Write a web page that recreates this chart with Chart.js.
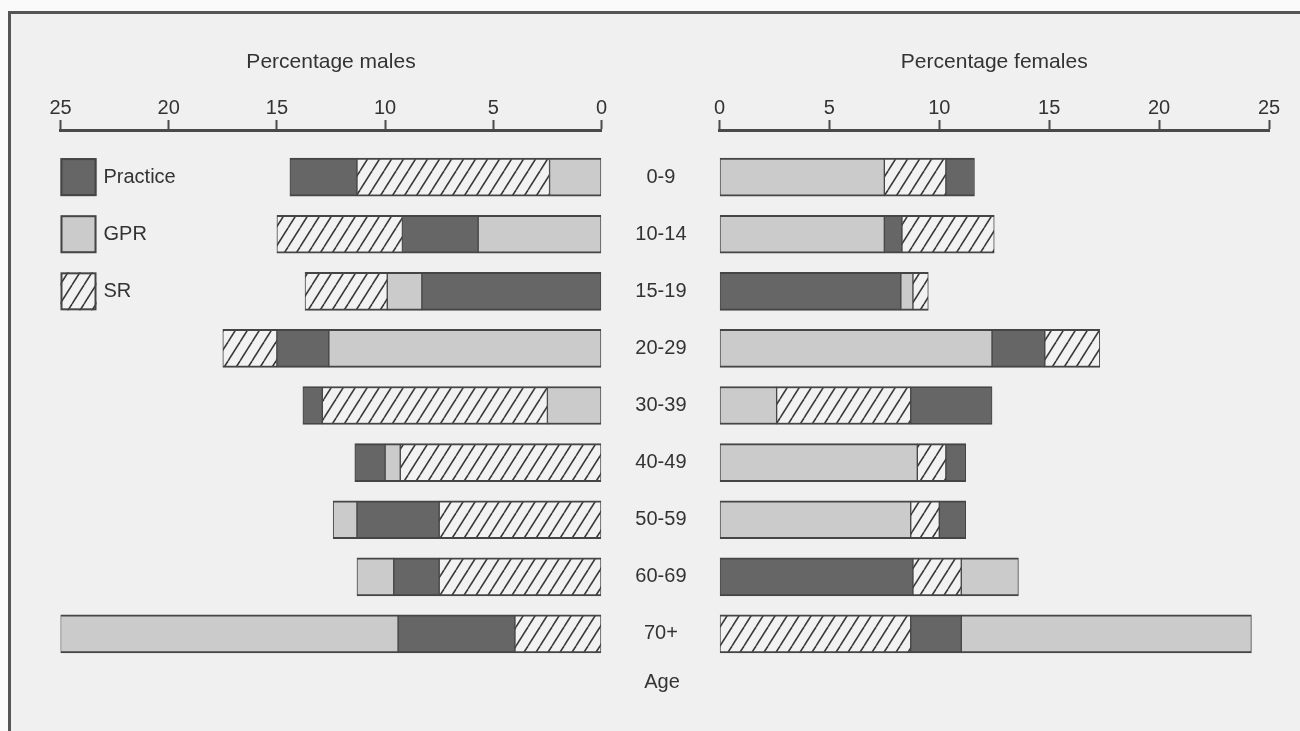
<!DOCTYPE html>
<html>
<head>
<meta charset="utf-8">
<title>Percentage males / females by age</title>
<script src="https://cdn.jsdelivr.net/npm/chart.js@4"></script>
<style>
  body { margin: 0; width: 1300px; height: 731px; overflow: hidden; background: #fafafa; position: relative; }
  #frame { position: absolute; left: 8px; top: 11px; right: -10px; bottom: -10px;
           border-left: 3px solid #555; border-top: 3px solid #555; background: #f0f0f0; }
  #males { position: absolute; left: 0; top: 0; }
  #females { position: absolute; left: 600px; top: 0; }
  #age { position: absolute; left: 612px; top: 669px; width: 100px; text-align: center;
         font: 20px "Liberation Sans", Arial, sans-serif; line-height: 24px; color: #333; }
</style>
</head>
<body>
<div id="frame"></div>
<canvas id="males" width="650" height="731"></canvas>
<canvas id="females" width="700" height="731"></canvas>
<div id="age">Age</div>
<script>
// age groups, top to bottom
var ageGroups = ['0-9', '10-14', '15-19', '20-29', '30-39', '40-49', '50-59', '60-69', '70+'];

// each bar segment is [start, end] in percent
var malePractice = [[11.3, 14.4], [5.7, 9.2], [0, 8.3], [12.6, 15.0], [12.9, 13.8], [10.0, 11.4], [7.5, 11.3], [7.5, 9.6], [4.0, 9.4]];
var maleGPR      = [[0, 2.4], [0, 5.7], [8.3, 9.9], [0, 12.6], [0, 2.5], [9.3, 10.0], [11.3, 12.4], [9.6, 11.3], [9.4, 25.0]];
var maleSR       = [[2.4, 11.3], [9.2, 15.0], [9.9, 13.7], [15.0, 17.5], [2.5, 12.9], [0, 9.3], [0, 7.5], [0, 7.5], [0, 4.0]];

var femalePractice = [[10.3, 11.6], [7.5, 8.3], [0, 8.25], [12.4, 14.8], [8.7, 12.4], [10.3, 11.2], [10.0, 11.2], [0, 8.8], [8.7, 11.0]];
var femaleGPR      = [[0, 7.5], [0, 7.5], [8.25, 8.8], [0, 12.4], [0, 2.6], [0, 9.0], [0, 8.7], [11.0, 13.6], [11.0, 24.2]];
var femaleSR       = [[7.5, 10.3], [8.3, 12.5], [8.8, 9.5], [14.8, 17.3], [2.6, 8.7], [9.0, 10.3], [8.7, 10.0], [8.8, 11.0], [0, 8.7]];

var xMax = 25;
var xStep = 5;

Chart.defaults.font.family = '"Liberation Sans", Arial, sans-serif';
Chart.defaults.color = '#333';

function hatchPattern(ctx) {
    var c = document.createElement('canvas');
    c.width = 12; c.height = 19;
    var g = c.getContext('2d');
    g.fillStyle = '#f2f2f2';
    g.fillRect(0, 0, 12, 19);
    g.strokeStyle = '#383838';
    g.lineWidth = 1.6;
    [-12, 0, 12].forEach(function(o) {
        g.beginPath();
        g.moveTo(o, 19);
        g.lineTo(o + 12, 0);
        g.stroke();
    });
    return ctx.createPattern(c, 'repeat');
}

function toPoints(segs) {
    return segs.map(function(s, i) { return { x: s, y: i }; });
}

function makeDatasets(practice, gpr, sr, hatch) {
    var common = {
        borderColor: '#454545',
        borderWidth: { top: 2, bottom: 2, left: 1, right: 1 },
        borderSkipped: false,
        barThickness: 38,
        grouped: false
    };
    return [
        Object.assign({ label: 'Practice', data: toPoints(practice), backgroundColor: '#666666' }, common),
        Object.assign({ label: 'GPR', data: toPoints(gpr), backgroundColor: '#cbcbcb' }, common),
        Object.assign({ label: 'SR', data: toPoints(sr), backgroundColor: hatch }, common)
    ];
}

function xAxis(title, reverse) {
    return {
        type: 'linear',
        position: 'top',
        min: 0,
        max: xMax,
        reverse: reverse,
        ticks: { stepSize: xStep, padding: 0, font: { size: 20 } },
        grid: { drawOnChartArea: false, drawTicks: true, tickLength: 10, tickWidth: 2, tickColor: '#4a4a4a' },
        border: { display: true, color: '#4a4a4a', width: 3 },
        title: { display: true, text: title, font: { size: 21 }, padding: { top: 0, bottom: 20.9 } }
    };
}

function yAxis(show) {
    return {
        type: 'linear',
        min: -0.825,
        max: 8.6,
        reverse: true,
        offset: false,
        display: show,
        afterBuildTicks: function(s) {
            s.ticks = ageGroups.map(function(a, i) { return { value: i }; });
        },
        afterFit: function(s) { if (show) s.width = 100; },
        ticks: {
            crossAlign: 'center',
            padding: 33,
            font: { size: 20 },
            callback: function(v) { return ageGroups[v]; }
        },
        grid: { display: false, drawTicks: false },
        border: { display: false }
    };
}

// legend boxes drawn in the first three rows of the male panel
var sideLegend = {
    id: 'sideLegend',
    afterDatasetsDraw: function(chart) {
        var ctx = chart.ctx;
        var x = chart.scales.x.getPixelForValue(xMax);
        var ys = chart.scales.y;
        ctx.save();
        chart.data.datasets.forEach(function(ds, i) {
            var yc = ys.getPixelForValue(i);
            ctx.fillStyle = ds.backgroundColor;
            ctx.fillRect(x, yc - 19, 36, 38);
            ctx.strokeStyle = '#454545';
            ctx.lineWidth = 2;
            ctx.strokeRect(x + 1, yc - 18, 34, 36);
            ctx.fillStyle = '#333';
            ctx.font = '20px "Liberation Sans", Arial, sans-serif';
            ctx.textBaseline = 'middle';
            ctx.fillText(ds.label, x + 43, yc);
        });
        ctx.restore();
    }
};

document.addEventListener("DOMContentLoaded", function() {
    var mctx = document.getElementById('males').getContext('2d');
    var fctx = document.getElementById('females').getContext('2d');

    new Chart(mctx, {
        type: 'bar',
        data: { datasets: makeDatasets(malePractice, maleGPR, maleSR, hatchPattern(mctx)) },
        options: {
            indexAxis: 'y',
            responsive: false,
            animation: false,
            events: [],
            layout: { padding: { left: 60.5, right: 48.5, top: 49.9, bottom: 62.8 } },
            scales: { x: xAxis('Percentage males', true), y: yAxis(false) },
            plugins: { legend: { display: false }, tooltip: { enabled: false } }
        },
        plugins: [sideLegend]
    });

    new Chart(fctx, {
        type: 'bar',
        data: { datasets: makeDatasets(femalePractice, femaleGPR, femaleSR, hatchPattern(fctx)) },
        options: {
            indexAxis: 'y',
            responsive: false,
            animation: false,
            events: [],
            layout: { padding: { left: 19.5, right: 31, top: 49.9, bottom: 62.8 } },
            scales: { x: xAxis('Percentage females', false), y: yAxis(true) },
            plugins: { legend: { display: false }, tooltip: { enabled: false } }
        }
    });
});
</script>
</body>
</html>
